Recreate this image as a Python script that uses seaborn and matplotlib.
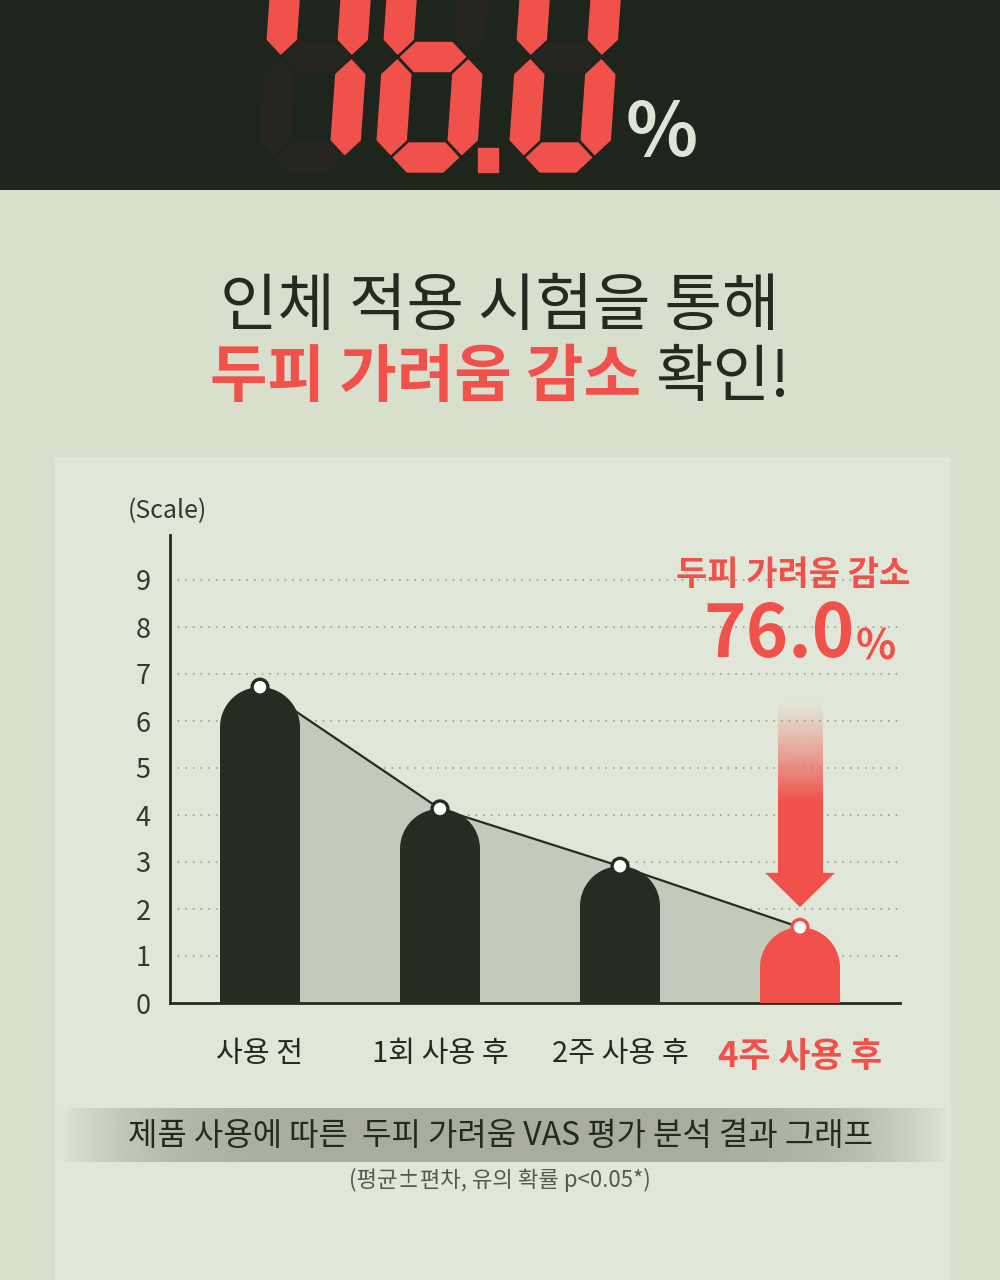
import numpy as np
import seaborn as sns
import matplotlib.pyplot as plt
from matplotlib.patches import Polygon, Ellipse, Rectangle

# 데이터
stages = ['사용 전', '1회 사용 후', '2주 사용 후', '4주 사용 후']
scores = [6.72, 4.13, 2.91, 1.61]
y_ticks = [0, 1, 2, 3, 4, 5, 6, 7, 8, 9]
big_number = '76.0'
headline_1 = '인체 적용 시험을 통해'
headline_red = '두피 가려움 감소 '
headline_end = '확인!'
note_title = '두피 가려움 감소'
caption = '제품 사용에 따른  두피 가려움 VAS 평가 분석 결과 그래프'
sub_caption = '(평균±편차, 유의 확률 p<0.05*)'

BG = '#d9dfcd'
PANEL = '#e1e7d8'
DARK = '#252d22'
RED = '#f0514a'
FILL = '#c4cabb'
TOP = '#1e251c'

sns.set_theme(style='white')
plt.rcParams['font.family'] = ['Noto Sans CJK KR', 'DejaVu Sans']

fig = plt.figure(figsize=(10, 12.8), dpi=100)
fig.patch.set_facecolor(BG)
fig.add_artist(Rectangle((55 / 1000, 0), 895 / 1000, (1280 - 457) / 1280,
                         transform=fig.transFigure, color=PANEL, zorder=0))

# 상단 7-세그먼트 숫자
ax_top = fig.add_axes([0, 1 - 190 / 1280, 1, 190 / 1280])
ax_top.set_axis_off()
ax_top.set_xlim(0, 1000)
ax_top.set_ylim(190, 0)
ax_top.add_patch(Rectangle((0, 0), 1000, 190, color=TOP))

SEGS = {'7': 'abcf', '6': 'acdefg', '0': 'abcdef'}


def seg_points(name, x0, yb, w=100, h=230, t=29, g=3, s=0.07):
    def hseg(vc):
        return [(t / 2 + g, vc), (t + g, vc + t / 2), (w - t - g, vc + t / 2),
                (w - t / 2 - g, vc), (w - t - g, vc - t / 2), (t + g, vc - t / 2)]

    def vseg(uc, v1, v2):
        return [(uc, v1 + g), (uc + t / 2, v1 + t / 2 + g), (uc + t / 2, v2 - t / 2 - g),
                (uc, v2 - g), (uc - t / 2, v2 - t / 2 - g), (uc - t / 2, v1 + t / 2 + g)]

    shapes = {
        'a': hseg(h - t / 2), 'g': hseg(h / 2), 'd': hseg(t / 2),
        'b': vseg(w - t / 2, h / 2, h - t / 2), 'c': vseg(w - t / 2, t / 2, h / 2),
        'f': vseg(t / 2, h / 2, h - t / 2), 'e': vseg(t / 2, t / 2, h / 2),
    }
    return [(x0 + u + s * v, yb - v) for u, v in shapes[name]]


digit_x = {0: 258, 1: 375, 3: 508}
for i, ch in enumerate(big_number):
    if ch == '.':
        ax_top.add_patch(Rectangle((478, 148), 20, 24, color=RED))
        continue
    for seg in 'abcdefg':
        col = RED if seg in SEGS[ch] else '#262520'
        ax_top.add_patch(Polygon(seg_points(seg, digit_x[i], 172), closed=True,
                                 color=col, joinstyle='round'))
ax_top.text(662, 134, '%', ha='center', va='center', fontsize=54,
            fontweight='bold', color='#dfe5d6')

# 제목
fig.text(0.5, 1 - 307 / 1280, headline_1, ha='center', va='center',
         fontsize=45, fontweight='medium', color='#262b22')
t1 = fig.text(0, 1 - 378 / 1280, headline_red, ha='left', va='center',
              fontsize=45, fontweight='bold', color=RED)
t2 = fig.text(0, 1 - 378 / 1280, headline_end, ha='left', va='center',
              fontsize=45, fontweight='medium', color='#262b22')
renderer = fig.canvas.get_renderer()
w1 = t1.get_window_extent(renderer).width
w2 = t2.get_window_extent(renderer).width
x_start = (1000 - w1 - w2) / 2
t1.set_x(x_start / 1000)
t2.set_x((x_start + w1) / 1000)

# 메인 차트
ax = fig.add_axes([0.17, 1 - 1003 / 1280, 0.73, (1003 - 535) / 1280])
ax.set_facecolor('none')
xlim = (-0.5, -0.5 + 730 / 180)
ylim = (0, 468 / 47)
px_x = 730 / (xlim[1] - xlim[0])
px_y = 468 / (ylim[1] - ylim[0])
bar_w = 80 / px_x
r_y = (bar_w / 2) * px_x / px_y

idx = list(range(len(stages)))
colors = [DARK, DARK, DARK, RED]
body = [v - r_y for v in scores]

for y in y_ticks[1:]:
    ax.axhline(y, color='#8d9286', lw=1.1, ls=(0, (1, 4)), zorder=0.5)

ax.fill_between(idx, scores, 0, color=FILL, zorder=1, lw=0)
sns.lineplot(x=idx, y=scores, ax=ax, color=DARK, lw=1.6, zorder=2)
sns.barplot(x=idx, y=body, hue=idx, palette=colors, legend=False,
            width=bar_w, saturation=1, ax=ax, zorder=3, linewidth=0)
for i, v in enumerate(scores):
    ax.add_patch(Ellipse((i, v - r_y), bar_w, 2 * r_y, facecolor=colors[i],
                         lw=0, zorder=3))
sns.scatterplot(x=idx, y=scores, ax=ax, s=130, color='white',
                edgecolor=colors, linewidth=2.4, zorder=5)

# 화살표
last = scores[-1]
tip = last + 0.43
head_top = tip + 0.72
shaft_top = head_top + 3.68
grad = np.zeros((200, 1, 4))
grad[:, 0, :3] = np.array([0xf0, 0x51, 0x4a]) / 255
grad[:, 0, 3] = np.clip(np.linspace(0, 1.7, 200), 0, 1) ** 1.2
ax.imshow(grad, extent=(3 - 0.125, 3 + 0.125, head_top, shaft_top),
          origin='upper', aspect='auto', zorder=4, interpolation='bilinear')
ax.add_patch(Polygon([(3 - 0.194, head_top + 0.01), (3 + 0.194, head_top + 0.01), (3, tip)],
                     closed=True, color=RED, zorder=4, lw=0))

ax.set_xlim(*xlim)
ax.set_ylim(*ylim)
ax.set_yticks(y_ticks)
ax.set_yticklabels([str(t) for t in y_ticks])
ax.set_xticks(idx)
ax.set_xticklabels(stages)
ax.set_xlabel('')
ax.set_ylabel('')
for lab in ax.get_yticklabels():
    lab.set_fontsize(19.5)
    lab.set_color('#333830')
    lab.set_fontweight('light')
for i, lab in enumerate(ax.get_xticklabels()):
    if i == len(stages) - 1:
        lab.set_fontsize(25)
        lab.set_color(RED)
        lab.set_fontweight('bold')
    else:
        lab.set_fontsize(21)
        lab.set_color('#262b22')
ax.tick_params(axis='y', length=0, pad=14)
ax.tick_params(axis='x', length=0, pad=26)
for side in ['top', 'right']:
    ax.spines[side].set_visible(False)
for side in ['left', 'bottom']:
    ax.spines[side].set_color(DARK)
    ax.spines[side].set_linewidth(2)

fig.text(167 / 1000, 1 - 511 / 1280, '(Scale)', ha='center', va='center',
         fontsize=18, color='#333830', fontweight='light')

# 주석 텍스트
fig.text(793 / 1000, 1 - 574 / 1280, note_title, ha='center', va='center',
         fontsize=24.5, fontweight='bold', color=RED)
fig.text(855 / 1000, 1 - 636 / 1280, big_number, ha='right', va='center',
         fontsize=52, fontweight='bold', color=RED)
fig.text(856 / 1000, 1 - 648 / 1280, '%', ha='left', va='center',
         fontsize=30, fontweight='bold', color=RED)

# 하단 캡션
ax_band = fig.add_axes([0.06, 1 - 1162 / 1280, 0.89, 54 / 1280])
ax_band.set_axis_off()
tt = np.linspace(-1, 1, 400)
band = np.zeros((1, 400, 4))
band[0, :, :3] = np.array([0xa3, 0xa8, 0x98]) / 255
band[0, :, 3] = 0.92 * (1 - np.abs(tt) ** 5)
ax_band.imshow(band, aspect='auto', interpolation='bilinear')

fig.text(0.5, 1 - 1136 / 1280, caption, ha='center', va='center',
         fontsize=23, fontweight='medium', color='#262b22')
fig.text(0.5, 1 - 1180 / 1280, sub_caption, ha='center', va='center',
         fontsize=16, fontweight='light', color='#555a4f')

fig.savefig('out.png', dpi=100, facecolor=fig.get_facecolor())
